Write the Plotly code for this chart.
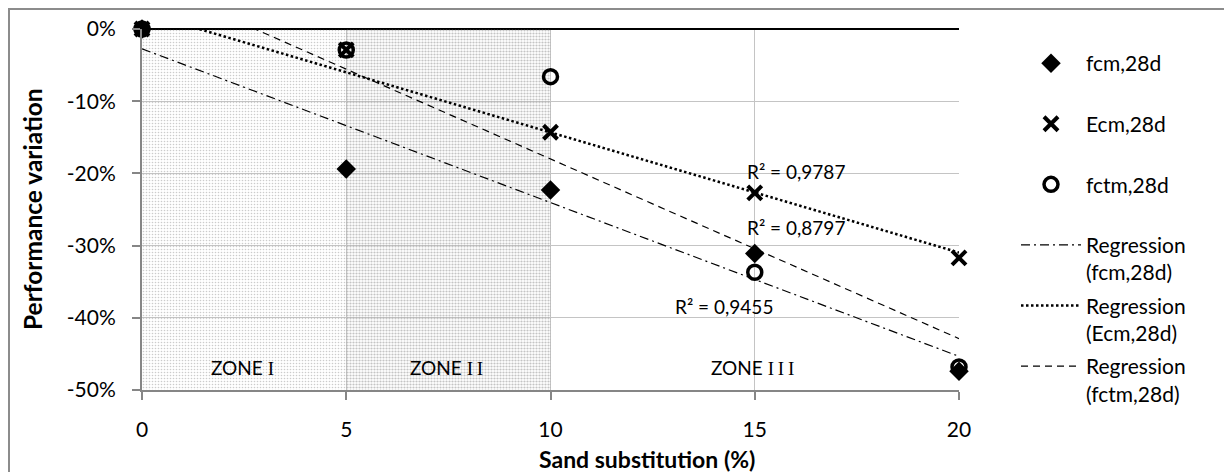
import numpy as np
import plotly.graph_objects as go

# ---------------- data ----------------
substitution = [0, 5, 10, 15, 20]                 # Sand substitution (%)
fcm_28d = [0.0, -19.4, -22.3, -31.1, -47.4]       # performance variation (%)
ecm_28d = [0.0, -2.9, -14.3, -22.7, -31.7]
fctm_28d = [0.0, -2.9, -6.6, -33.7, -46.8]
series_names = ["fcm,28d", "Ecm,28d", "fctm,28d"]
regression_names = ["Regression<br>(fcm,28d)", "Regression<br>(Ecm,28d)", "Regression<br>(fctm,28d)"]
r2_labels = ["R² = 0,9455", "R² = 0,9787", "R² = 0,8797"]
r2_positions = [(14.25, -38.5), (16.0, -19.7), (16.0, -27.5)]
zone_edges = [0, 5, 10, 20]
zone_words = ["ZONE", "ZONE", "ZONE"]
zone_numerals = ["I", "I\u2009I", "I\u2009I\u2009I"]
zone_label_x = [2.45, 7.45, 14.95]
zone_label_y = -46.9
x_ticks = [0, 5, 10, 15, 20]
y_ticks = [0, -10, -20, -30, -40, -50]
y_tick_text = ["0%", "-10%", "-20%", "-30%", "-40%", "-50%"]

# ---------------- layout geometry ----------------
W, H = 1224, 472
L, R, T, B = 142, 959, 29, 390
PW, PH = R - L, B - T


def px_x(p):
    return (p - L) / PW


def px_y(p):
    return (B - p) / PH


FONT = "Lato, 'Noto Sans', sans-serif"

fig = go.Figure()

# zone shading
zone_patterns = [
    dict(shape=".", size=3, solidity=0.24, fgcolor="#999999", bgcolor="rgba(255,255,255,0)"),
    dict(shape=".", size=3, solidity=0.42, fgcolor="#8a8a8a", bgcolor="rgba(255,255,255,0)"),
]
for i, pat in enumerate(zone_patterns):
    x0, x1 = zone_edges[i], zone_edges[i + 1]
    fig.add_trace(go.Scatter(
        x=[x0, x1, x1, x0, x0], y=[y_ticks[0], y_ticks[0], y_ticks[-1], y_ticks[-1], y_ticks[0]],
        mode="lines", fill="toself", line=dict(width=0), fillcolor="rgba(0,0,0,0)",
        fillpattern=pat, showlegend=False, hoverinfo="skip"))

series = [fcm_28d, ecm_28d, fctm_28d]
markers = [
    dict(symbol="diamond", size=15, color="black"),
    dict(symbol="x-thin", size=14, color="black", line=dict(width=4, color="black")),
    dict(symbol="circle-open", size=14, color="black", line=dict(width=3.5, color="black")),
]
line_styles = [
    dict(color="black", width=1.2, dash="9px,4px,2px,4px"),
    dict(color="black", width=2.5, dash="2.5px,2.5px"),
    dict(color="black", width=1.2, dash="7px,5px"),
]

# regression lines (least squares fits of each series)
xs = np.array(substitution, dtype=float)
x_line = np.array([zone_edges[0], zone_edges[-1]], dtype=float)
for i, ys in enumerate(series):
    slope, intercept = np.polyfit(xs, np.array(ys), 1)
    fig.add_trace(go.Scatter(
        x=x_line, y=slope * x_line + intercept, mode="lines", line=line_styles[i],
        name=regression_names[i], legendgroup="reg%d" % i, legendrank=10 + i, hoverinfo="skip"))

# data points (legend names padded to two lines so every legend entry has equal height)
draw_order = [2, 0, 1]
for i in draw_order:
    fig.add_trace(go.Scatter(
        x=substitution, y=series[i], mode="markers", marker=markers[i],
        name=series_names[i] + "<br>\u00a0", legendgroup=series_names[i], legendrank=i + 1,
        cliponaxis=False))

annotations = []
for txt, (ax, ay) in zip(r2_labels, r2_positions):
    annotations.append(dict(x=ax, y=ay, xref="x", yref="y", text=txt, showarrow=False,
                            xanchor="center", yanchor="middle",
                            font=dict(family=FONT, size=19, color="black")))
for word, num, zx in zip(zone_words, zone_numerals, zone_label_x):
    annotations.append(dict(x=zx, y=zone_label_y, xref="x", yref="y",
                            text=word + " <span style=\"font-family:'Liberation Serif'\">" + num + "</span>",
                            showarrow=False, xanchor="center", yanchor="middle",
                            font=dict(family=FONT, size=19, color="black")))

annotations.append(dict(x=px_x(647), y=px_y(459), xref="paper", yref="paper",
                        xanchor="center", yanchor="middle",
                        text="<b>Sand substitution (%)</b>", showarrow=False,
                        font=dict(family=FONT, size=23, color="black")))
annotations.append(dict(x=px_x(32), y=px_y(209), xref="paper", yref="paper", textangle=-90,
                        xanchor="center", yanchor="middle",
                        text="<b>Performance variation</b>", showarrow=False,
                        font=dict(family=FONT, size=24.5, color="black")))

shapes = [dict(type="rect", xref="paper", yref="paper",
               x0=px_x(9), x1=px_x(W + 20), y0=px_y(H + 20), y1=px_y(9),
               line=dict(color="#8c8c8c", width=2), fillcolor="rgba(0,0,0,0)", layer="below")]

axis_common = dict(showline=True, linecolor="#868686", linewidth=2, ticks="outside", ticklen=8,
                   tickwidth=2, tickcolor="#868686", gridcolor="#c4c4c4", gridwidth=1,
                   tickfont=dict(family=FONT, size=21, color="black"))

fig.update_layout(
    width=W, height=H, margin=dict(l=L, r=W - R, t=T, b=H - B),
    paper_bgcolor="white", plot_bgcolor="white",
    xaxis=dict(range=[zone_edges[0], zone_edges[-1]], tickvals=x_ticks, showgrid=True,
               zeroline=False, ticklabelstandoff=12, **axis_common),
    yaxis=dict(range=[y_ticks[-1], y_ticks[0]], tickvals=y_ticks, ticktext=y_tick_text,
               showgrid=True, zeroline=True, zerolinecolor="black", zerolinewidth=2,
               ticklabelstandoff=12, **axis_common),
    legend=dict(x=px_x(1016), y=px_y(43), xanchor="left", yanchor="top", itemwidth=60,
                traceorder="grouped", tracegroupgap=3, valign="top", maxheight=1000,
                font=dict(family=FONT, size=21, color="black"), bgcolor="rgba(0,0,0,0)"),
    annotations=annotations, shapes=shapes, showlegend=True,
)

fig.write_html("out.html")
